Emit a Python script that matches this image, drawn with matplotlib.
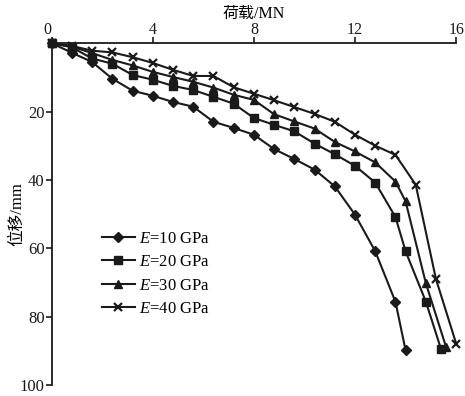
import matplotlib
matplotlib.use("Agg")
import matplotlib.pyplot as plt

# Lastschritte (MN) und Setzungen (mm) je E-Modul
load_10 = [0, 0.8, 1.6, 2.4, 3.2, 4.0, 4.8, 5.6, 6.4, 7.2, 8.0, 8.8, 9.6, 10.4, 11.2, 12.0, 12.8, 13.6, 14.0]
disp_10 = [0, 2.8, 5.5, 10.4, 13.9, 15.4, 17.2, 18.6, 23.0, 24.8, 26.8, 31.0, 33.9, 37.0, 41.9, 50.2, 60.9, 75.7, 89.9]

load_20 = [0, 0.8, 1.6, 2.4, 3.2, 4.0, 4.8, 5.6, 6.4, 7.2, 8.0, 8.8, 9.6, 10.4, 11.2, 12.0, 12.8, 13.6, 14.0, 14.8, 15.4]
disp_20 = [0, 1.2, 4.5, 6.0, 9.3, 10.7, 12.5, 13.7, 15.7, 17.7, 21.9, 23.9, 25.8, 29.4, 32.5, 35.9, 40.8, 50.9, 60.9, 75.6, 89.5]

load_30 = [0, 0.8, 1.6, 2.4, 3.2, 4.0, 4.8, 5.6, 6.4, 7.2, 8.0, 8.8, 9.6, 10.4, 11.2, 12.0, 12.8, 13.6, 14.0, 14.8, 15.6]
disp_30 = [0, 1.0, 2.9, 4.9, 6.5, 8.4, 9.9, 11.3, 13.0, 15.1, 16.6, 20.8, 22.9, 25.0, 28.9, 31.7, 34.9, 40.5, 46.3, 70.2, 88.9]

load_40 = [0, 0.8, 1.6, 2.4, 3.2, 4.0, 4.8, 5.6, 6.4, 7.2, 8.0, 8.8, 9.6, 10.4, 11.2, 12.0, 12.8, 13.6, 14.4, 15.2, 16.0]
disp_40 = [0, 0.8, 2.2, 2.7, 4.1, 5.8, 7.8, 9.6, 9.6, 12.9, 14.8, 16.7, 18.7, 20.7, 23.0, 26.8, 30.0, 32.7, 41.4, 69.0, 87.9]

labels = ['$E$=10 GPa', '$E$=20 GPa', '$E$=30 GPa', '$E$=40 GPa']
x_ticks = [0, 4, 8, 12, 16]
y_ticks = [20, 40, 60, 80, 100]

plt.rcParams['font.family'] = ['Liberation Serif', 'Noto Sans CJK SC']
plt.rcParams['mathtext.fontset'] = 'custom'
plt.rcParams['mathtext.rm'] = 'Liberation Serif'
plt.rcParams['mathtext.it'] = 'Liberation Serif:italic'
plt.rcParams['font.size'] = 12

col = '#1a1a1a'
fig = plt.figure(figsize=(4.65, 3.96), dpi=100)
ax = fig.add_axes([0.111, 0.028, 0.870, 0.863])

series = [
    (load_10, disp_10, 'D', 5.0, 1.0),
    (load_20, disp_20, 's', 5.5, 1.0),
    (load_30, disp_30, '^', 6.0, 1.0),
    (load_40, disp_40, 'x', 6.0, 1.6),
]
for (x, y, m, ms, mw), lab in zip(series, labels):
    ax.plot(x, y, color=col, lw=1.5, marker=m, ms=ms, mew=mw,
            mfc=col, mec=col, label=lab, clip_on=False, zorder=3)

ax.set_xlim(0, 16)
ax.set_ylim(100, 0)
ax.xaxis.tick_top()
ax.xaxis.set_label_position('top')
ax.set_xticks(x_ticks)
ax.set_yticks(y_ticks)
ax.tick_params(direction='out', length=4, width=1.2, colors=col, pad=1)
ax.tick_params(axis='x', pad=0, labelsize=11.5)
ax.get_xticklabels()[0].set_ha('right')
ax.spines['right'].set_visible(False)
ax.spines['bottom'].set_visible(False)
for s in ['top', 'left']:
    ax.spines[s].set_linewidth(1.3)
    ax.spines[s].set_color(col)

ax.set_xlabel('荷载/MN', fontsize=11.5, va='center')
ax.xaxis.set_label_coords(0.5, 1 + (43.3 - 14) / 341.7)
ax.set_ylabel('位移/mm', fontsize=12, va='center')
ax.yaxis.set_label_coords(-0.085, 0.5)

ax.legend(loc='upper left', bbox_to_anchor=(0.095, 0.485), frameon=False,
          handlelength=2.0, handletextpad=0.25, labelspacing=0.45, borderpad=0.2)

fig.savefig('out.png', dpi=100)
